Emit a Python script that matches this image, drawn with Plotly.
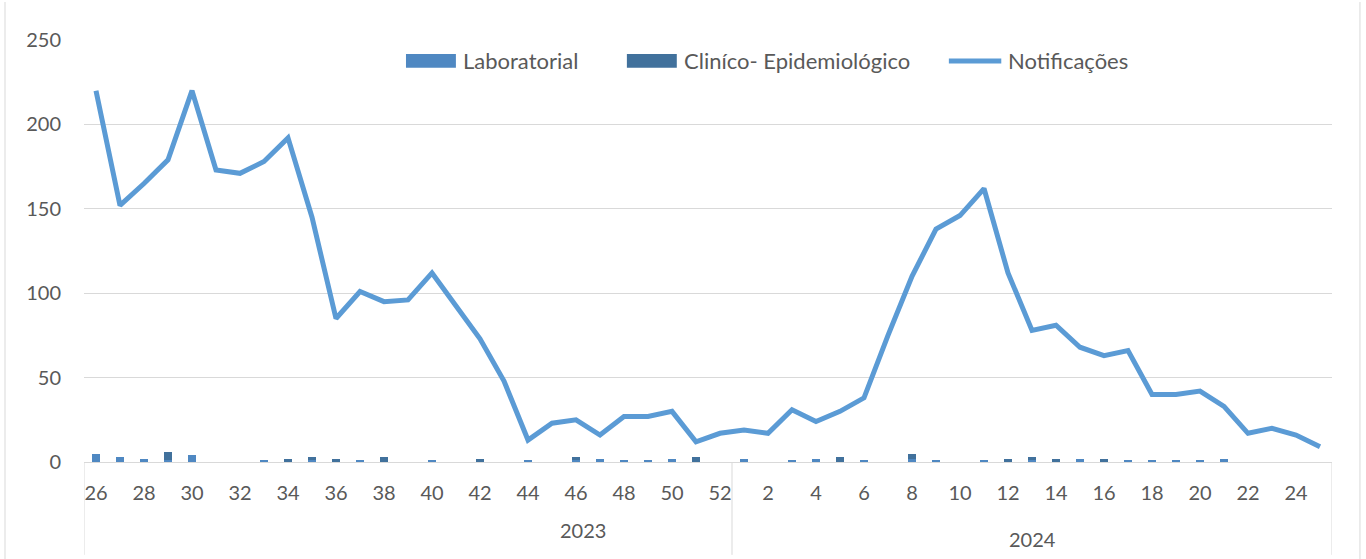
import plotly.graph_objects as go

weeks = [26, 27, 28, 29, 30, 31, 32, 33, 34, 35, 36, 37, 38, 39, 40, 41, 42, 43, 44, 45, 46, 47, 48, 49, 50, 51, 52,
         1, 2, 3, 4, 5, 6, 7, 8, 9, 10, 11, 12, 13, 14, 15, 16, 17, 18, 19, 20, 21, 22, 23, 24, 25]
years = ["2023", "2024"]
laboratorial = [5, 3, 2, 1, 4, 0, 0, 1, 0, 1, 0, 1, 0, 0, 1, 0, 0, 0, 1, 0, 1, 2, 1, 1, 2, 0, 0,
                2, 0, 1, 2, 0, 1, 0, 2, 1, 0, 1, 0, 1, 0, 2, 0, 1, 1, 1, 1, 2, 0, 0, 0, 0]
clinico = [0, 0, 0, 5, 0, 0, 0, 0, 2, 2, 2, 0, 3, 0, 0, 0, 2, 0, 0, 0, 2, 0, 0, 0, 0, 3, 0,
           0, 0, 0, 0, 3, 0, 0, 3, 0, 0, 0, 2, 2, 2, 0, 2, 0, 0, 0, 0, 0, 0, 0, 0, 0]
notificacoes = [220, 152, 165, 179, 220, 173, 171, 178, 192, 145, 85, 101, 95, 96, 112, 92, 73, 48, 13, 23, 25, 16, 27, 27, 30, 12, 17,
                19, 17, 31, 24, 30, 38, 75, 110, 138, 146, 162, 112, 78, 81, 68, 63, 66, 40, 40, 42, 33, 17, 20, 16, 9]
series_names = ["Laboratorial", "Clin\u00edco- Epidemiol\u00f3gico", "Notifica\u00e7\u00f5es"]
series_colors = ["#4F88C2", "#41719C", "#5B9BD5"]

idx = list(range(len(weeks)))
n2023 = 27
tickvals = idx[::2]
ticktext = [str(weeks[i]) for i in tickvals]

FONT = "Lato"
TXT = "#595959"
GRID = "#D9D9D9"

fig = go.Figure()
fig.add_trace(go.Bar(x=idx, y=laboratorial, name=series_names[0],
                     marker=dict(color=series_colors[0], line=dict(width=0)), width=0.3))
fig.add_trace(go.Bar(x=idx, y=clinico, name=series_names[1],
                     marker=dict(color=series_colors[1], line=dict(width=0)), width=0.3))
fig.add_trace(go.Scatter(x=idx, y=notificacoes, name=series_names[2], mode="lines",
                         line=dict(color=series_colors[2], width=5)))

# category group dividers
for xv in [-0.5, n2023 - 0.5, len(weeks) - 0.5]:
    fig.add_shape(type="line", xref="x", yref="paper", x0=xv, x1=xv, y0=0, y1=-0.22,
                  line=dict(color=GRID, width=1))
# outer frame
for xp in [-0.0633, 1.0224]:
    fig.add_shape(type="line", xref="paper", yref="paper", x0=xp, x1=xp, y0=-0.23, y1=1.09,
                  line=dict(color=GRID, width=1))

fig.add_annotation(x=20.3, y=-0.161, xref="x", yref="paper", text=years[0], showarrow=False,
                   font=dict(family=FONT, size=20, color=TXT), xanchor="center", yanchor="middle")
fig.add_annotation(x=39.0, y=-0.182, xref="x", yref="paper", text=years[1], showarrow=False,
                   font=dict(family=FONT, size=20, color=TXT), xanchor="center", yanchor="middle")

# legend (drawn)
leg_y = 0.952
sw = [(0.258, 0.298), (0.435, 0.475), (0.693, 0.735)]
for i, (a, b) in enumerate(sw):
    if i < 2:
        fig.add_shape(type="rect", xref="paper", yref="paper", x0=a, x1=b, y0=0.934, y1=0.967,
                      fillcolor=series_colors[i], line=dict(width=0))
    else:
        fig.add_shape(type="line", xref="paper", yref="paper", x0=a, x1=b, y0=0.950, y1=0.950,
                      line=dict(color=series_colors[i], width=5))
    fig.add_annotation(x=b + 0.004, y=leg_y, xref="paper", yref="paper", text=series_names[i],
                       showarrow=False, xanchor="left", yanchor="middle",
                       font=dict(family=FONT, size=22, color=TXT))

fig.update_layout(
    width=1366, height=559,
    margin=dict(l=84, r=34, t=40, b=97),
    paper_bgcolor="white", plot_bgcolor="white",
    barmode="stack",
    font=dict(family=FONT, size=20, color=TXT),
    showlegend=False,
    xaxis=dict(range=[-0.5, len(weeks) - 0.5], tickmode="array", tickvals=tickvals, ticktext=ticktext,
               showgrid=False, zeroline=False, showline=True, linecolor=GRID, linewidth=1,
               ticks="", ticklabelstandoff=13, tickfont=dict(family=FONT, size=20, color=TXT)),
    yaxis=dict(range=[0, 250], dtick=50, showgrid=True, gridcolor=GRID, gridwidth=1,
               zeroline=False, showline=False, ticks="", ticklabelstandoff=22,
               tickfont=dict(family=FONT, size=20, color=TXT)),
)

fig.write_html("out.html", config={"displayModeBar": False},
               post_script="document.body.style.margin='0';document.body.style.overflow='hidden';")
